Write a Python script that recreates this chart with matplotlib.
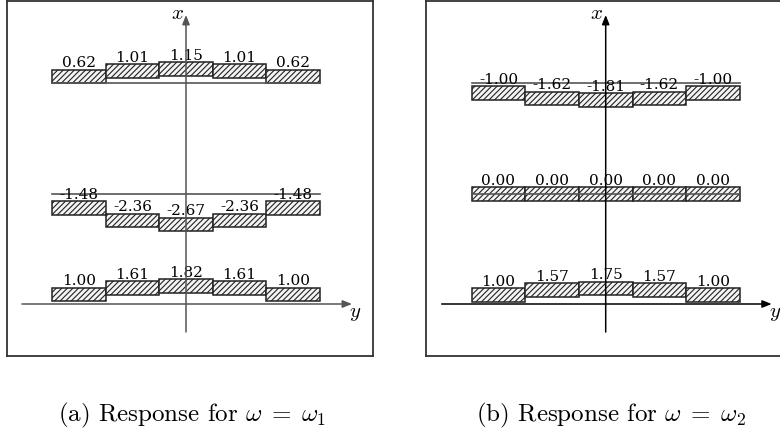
import numpy as np
import matplotlib
matplotlib.use('Agg')
import matplotlib.pyplot as plt

plt.rcParams['mathtext.fontset'] = 'cm'
plt.rcParams['hatch.linewidth'] = 0.8

# response values, rows listed from bottom to top
resp_a = [
    [1.00, 1.61, 1.82, 1.61, 1.00],
    [-1.48, -2.36, -2.67, -2.36, -1.48],
    [0.62, 1.01, 1.15, 1.01, 0.62],
]
resp_b = [
    [1.00, 1.57, 1.75, 1.57, 1.00],
    [0.00, 0.00, 0.00, 0.00, 0.00],
    [-1.00, -1.62, -1.81, -1.62, -1.00],
]
captions = [r'(a) Response for $\omega\;=\;\omega_1$',
            r'(b) Response for $\omega\;=\;\omega_2$']

# drawing layout (panel units ~ pixels): base, scale, reference line
rows_a = [(-7, 10, None), (110, 14, 110), (212.3, 14, 221)]
rows_b = [(-6.2, 8.5, None), (103.3, 8.5, 110), (212.9, 8.6, 221.3)]

W, H = 780, 434
bw = 53.6   # bar width
bh = 13.5   # bar thickness
xc = (np.arange(5) - 2) * bw

fig = plt.figure(figsize=(7.8, 4.34), dpi=100)


def panel(left_px, right_px, org_x, resp, rows, axcol, cap_x, cap):
    ax = fig.add_axes([left_px / W, (H - 356) / H, (right_px - left_px) / W, 355 / H])
    ax.set_xlim(left_px - org_x, right_px - org_x)
    ax.set_ylim(304 - 356, 304 - 1)
    ax.set_xticks([])
    ax.set_yticks([])
    for s in ax.spines.values():
        s.set_color('#333333')
        s.set_linewidth(1.3)

    for vals, (base, sc, line) in zip(resp, rows):
        vals = np.array(vals)
        bottoms = base + sc * vals
        ax.bar(xc, bh, bottom=bottoms, width=bw, align='center', color='#f4f4f4',
               edgecolor='#222222', linewidth=1.1, hatch='//////', zorder=2)
        if line is not None:
            ax.plot([xc[0] - bw / 2, xc[-1] + bw / 2], [line, line],
                    color='#555555', lw=1.2, zorder=3)
        for x, b, v in zip(xc, bottoms, vals):
            ax.text(x, b + bh + 2.5, f'{v:.2f}', ha='center', va='baseline',
                    fontsize=11, family='DejaVu Serif', zorder=4)

    # axes arrows
    ap = dict(arrowstyle='-|>,head_length=0.55,head_width=0.22', lw=1.1,
              color=axcol, shrinkA=0, shrinkB=0)
    ax.annotate('', xy=(0, 289), xytext=(0, -28), arrowprops=ap, zorder=5)
    ax.annotate('', xy=(166, 0), xytext=(-164, 0), arrowprops=ap, zorder=5)
    ax.text(-9, 291, r'$x$', fontsize=15, ha='center', va='center')
    ax.text(169, -9, r'$y$', fontsize=15, ha='center', va='center')

    fig.text(cap_x / W, (H - 415) / H, cap, ha='center', va='center',
             fontsize=18, family='cmr10')


panel(6.5, 372.7, 186, resp_a, rows_a, '#555555', 192, captions[0])
panel(426, 783, 605.7, resp_b, rows_b, 'black', 611, captions[1])

fig.savefig('out.png', dpi=100)
